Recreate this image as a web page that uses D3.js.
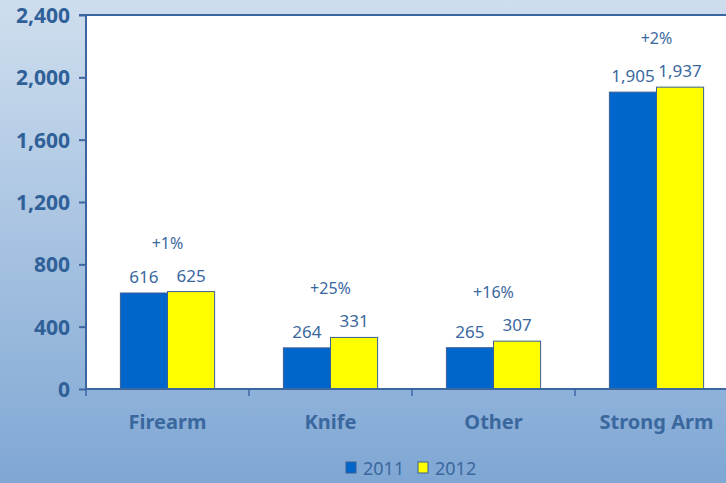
<!DOCTYPE html>
<html><head><meta charset="utf-8">
<script src="https://cdn.jsdelivr.net/npm/d3@7"></script>
<style>body{margin:0;padding:0;overflow:hidden}svg{display:block}</style>
</head><body>
<script>
const categories = ["Firearm", "Knife", "Other", "Strong Arm"];
const years = ["2011", "2012"];
const values2011 = [616, 264, 265, 1905];
const values2012 = [625, 331, 307, 1937];
const changeLabels = ["+1%", "+25%", "+16%", "+2%"];
const yTicks = [0, 400, 800, 1200, 1600, 2000, 2400];
const colors = ["#0066cc", "#ffff00"];

(function () {
const W = 726, H = 483;
const svg = d3.select("body").append("svg").attr("width", W).attr("height", H);
const defs = svg.append("defs");
const g = defs.append("linearGradient").attr("id", "bg").attr("x1", 0).attr("y1", 0).attr("x2", 0).attr("y2", 1);
g.append("stop").attr("offset", "0%").attr("stop-color", "#cfdeee");
g.append("stop").attr("offset", "100%").attr("stop-color", "#7fa7d4");
svg.append("rect").attr("width", W).attr("height", H).attr("fill", "url(#bg)");

const mLeft = 86, mTop = 15, mBottom = 389;
const band = 163;
const x = d3.scaleBand().domain(categories).range([mLeft, mLeft + band * categories.length]).paddingInner(0).paddingOuter(0);
const y = d3.scaleLinear().domain([0, 2400]).range([mBottom, mTop]);
const xs = d3.scaleBand().domain(years).range([0, x.bandwidth()]).paddingInner(0).paddingOuter(0.73);

const textColor = "#3a689e";
const axisColor = "#3c66a0";

svg.append("rect").attr("x", mLeft).attr("y", mTop).attr("width", W - mLeft).attr("height", mBottom - mTop).attr("fill", "#fff");
svg.append("line").attr("x1", mLeft - 7).attr("x2", W).attr("y1", mTop).attr("y2", mTop).attr("stroke", axisColor).attr("stroke-width", 2);

const data = categories.map((c, i) => ({cat: c, vals: [values2011[i], values2012[i]], change: changeLabels[i]}));

const grp = svg.append("g").selectAll("g").data(data).join("g").attr("transform", d => `translate(${x(d.cat)},0)`);
grp.selectAll("rect").data(d => d.vals.map((v, j) => ({v, yr: years[j], j}))).join("rect")
  .attr("x", d => xs(d.yr)).attr("width", xs.bandwidth())
  .attr("y", d => y(d.v)).attr("height", d => mBottom - y(d.v))
  .attr("fill", d => colors[d.j]).attr("stroke", "#3a5f94").attr("stroke-width", 1);
grp.selectAll("text.val").data(d => d.vals.map((v, j) => ({v, yr: years[j]}))).join("text")
  .attr("class", "val")
  .attr("x", d => xs(d.yr) + xs.bandwidth() / 2).attr("y", d => y(d.v) - 10)
  .attr("text-anchor", "middle").attr("font-family", "Noto Sans").attr("font-size", 17)
  .attr("fill", textColor).text(d => d3.format(",")(d.v));
grp.append("text").attr("x", x.bandwidth() / 2).attr("y", d => y(d3.max(d.vals)) - 43)
  .attr("text-anchor", "middle").attr("font-family", "Noto Sans").attr("font-size", 16)
  .attr("fill", textColor).text(d => d.change);

// Y axis
const ya = svg.append("g").attr("transform", `translate(${mLeft},0)`)
  .call(d3.axisLeft(y).tickValues(yTicks).tickFormat(d3.format(",")).tickSize(7).tickPadding(9));
ya.select(".domain").attr("stroke", axisColor).attr("stroke-width", 2).attr("d", `M0,${mTop}V${mBottom}`);
ya.selectAll(".tick line").attr("stroke", axisColor).attr("stroke-width", 2);
ya.selectAll(".tick text").attr("font-family", "Noto Sans").attr("font-weight", "bold").attr("font-size", 21).attr("fill", "#2f6098").attr("dy", "0.36em");

// X axis
const xa = svg.append("g").attr("transform", `translate(0,${mBottom})`)
  .call(d3.axisBottom(x).tickSize(0).tickPadding(26));
xa.select(".domain").attr("stroke", axisColor).attr("stroke-width", 2).attr("d", `M${mLeft},0H${W}`);
xa.selectAll(".tick text").attr("font-family", "Noto Sans").attr("font-weight", "bold").attr("font-size", 20).attr("fill", "#3a689e");
const bounds = categories.map((c) => x(c)).concat([x(categories[categories.length - 1]) + band]);
xa.selectAll("line.sep").data(bounds.filter(b => b < W)).join("line").attr("class", "sep")
  .attr("x1", d => d).attr("x2", d => d).attr("y1", 0).attr("y2", 7).attr("stroke", axisColor).attr("stroke-width", 1.5);

// Legend
const lg = svg.append("g").attr("transform", "translate(346,462)");
const items = lg.selectAll("g").data(years).join("g").attr("transform", (d, i) => `translate(${i * 72},0)`);
items.append("rect").attr("width", 10).attr("height", 11).attr("fill", (d, i) => colors[i]).attr("stroke", "#3a5f94").attr("stroke-width", 1);
items.append("text").attr("x", 17).attr("y", 13).attr("font-family", "Noto Sans").attr("font-size", 18).attr("fill", textColor).text(d => d);
})();
</script>
</body></html>
